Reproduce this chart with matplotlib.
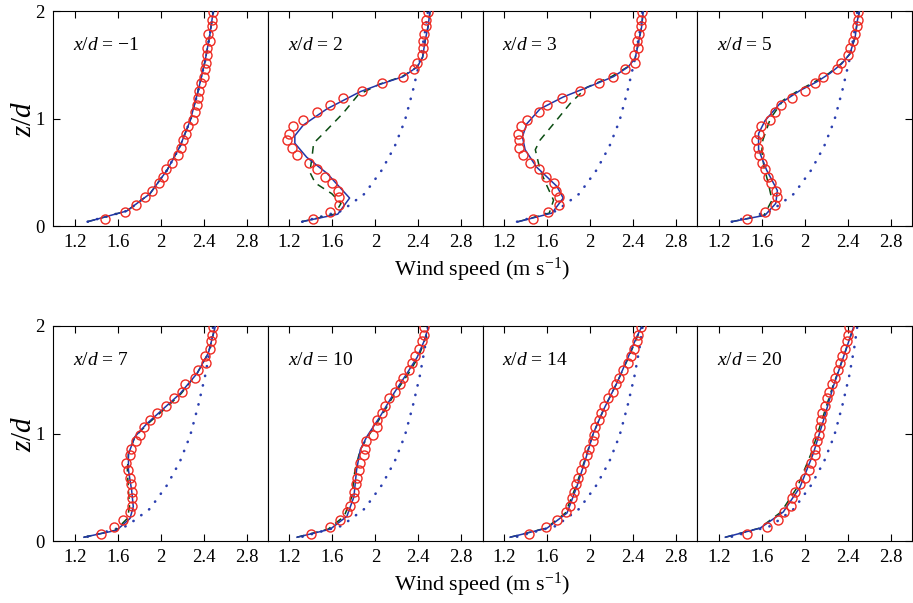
import numpy as np
import matplotlib
matplotlib.use('Agg')
import matplotlib.pyplot as plt

plt.rcParams['font.family'] = ['Liberation Serif', 'DejaVu Serif']
plt.rcParams['mathtext.fontset'] = 'custom'
plt.rcParams['mathtext.rm'] = 'Liberation Serif'
plt.rcParams['mathtext.it'] = 'Liberation Serif:italic'

# downstream positions
positions = ['\u22121', '2', '3', '5', '7', '10', '14', '20']

# measurement heights (z/d), shared by all profiles
z_obs = [0.065, 0.13, 0.20, 0.27, 0.33, 0.40, 0.46, 0.53, 0.59, 0.66,
         0.73, 0.80, 0.86, 0.93, 0.99, 1.06, 1.13, 1.19, 1.26, 1.33,
         1.39, 1.46, 1.52, 1.59, 1.66, 1.72, 1.79, 1.86, 1.92, 1.99]

# measured wind speed (circles)
u_obs = [
    [1.485, 1.67, 1.775, 1.85, 1.92, 1.985, 2.02, 2.05, 2.105, 2.165, 2.185, 2.21, 2.235, 2.255, 2.305,
     2.32, 2.335, 2.345, 2.36, 2.38, 2.40, 2.41, 2.42, 2.435, 2.43, 2.46, 2.44, 2.48, 2.48, 2.485],
    [1.415, 1.58, 1.665, 1.665, 1.655, 1.60, 1.535, 1.455, 1.38, 1.27, 1.22, 1.18, 1.20, 1.235, 1.33,
     1.46, 1.58, 1.695, 1.875, 2.06, 2.26, 2.36, 2.39, 2.43, 2.44, 2.44, 2.45, 2.47, 2.47, 2.495],
    [1.47, 1.605, 1.715, 1.71, 1.68, 1.66, 1.59, 1.525, 1.445, 1.375, 1.34, 1.335, 1.33, 1.355, 1.41,
     1.52, 1.60, 1.74, 1.905, 2.08, 2.21, 2.325, 2.415, 2.41, 2.45, 2.435, 2.46, 2.47, 2.475, 2.487],
    [1.465, 1.63, 1.72, 1.74, 1.73, 1.69, 1.66, 1.63, 1.60, 1.57, 1.56, 1.55, 1.575, 1.595, 1.68,
     1.725, 1.775, 1.88, 2.00, 2.095, 2.17, 2.30, 2.335, 2.40, 2.425, 2.445, 2.47, 2.49, 2.50, 2.50],
    [1.445, 1.57, 1.65, 1.715, 1.73, 1.73, 1.73, 1.725, 1.71, 1.70, 1.68, 1.71, 1.72, 1.77, 1.81,
     1.845, 1.90, 1.965, 2.05, 2.12, 2.20, 2.23, 2.32, 2.345, 2.42, 2.415, 2.46, 2.47, 2.48, 2.49],
    [1.40, 1.575, 1.67, 1.735, 1.76, 1.80, 1.805, 1.82, 1.83, 1.845, 1.855, 1.89, 1.90, 1.915, 1.975,
     2.015, 2.015, 2.06, 2.09, 2.13, 2.185, 2.225, 2.255, 2.31, 2.34, 2.365, 2.41, 2.43, 2.45, 2.45],
    [1.43, 1.59, 1.69, 1.775, 1.815, 1.83, 1.855, 1.87, 1.89, 1.92, 1.945, 1.97, 1.99, 2.025, 2.04,
     2.05, 2.08, 2.10, 2.13, 2.17, 2.21, 2.24, 2.27, 2.31, 2.355, 2.38, 2.41, 2.435, 2.45, 2.47],
    [1.46, 1.65, 1.75, 1.81, 1.875, 1.88, 1.905, 1.955, 2.005, 2.04, 2.055, 2.095, 2.10, 2.11, 2.13,
     2.145, 2.15, 2.165, 2.19, 2.205, 2.23, 2.25, 2.28, 2.31, 2.33, 2.345, 2.375, 2.39, 2.405, 2.415],
]

# inflow profile (dotted)
z_in = [0.04, 0.14, 0.30, 0.52, 0.74, 0.98, 1.26, 1.54, 1.79, 2.0]
u_in = [1.32, 1.685, 1.90, 2.06, 2.18, 2.275, 2.35, 2.415, 2.46, 2.49]

# model 1 (solid blue)
z_m1 = [
    z_in,
    [0.04, 0.11, 0.26, 0.49, 0.64, 0.77, 0.84, 0.94, 1.09, 1.25, 1.32, 1.39, 1.48, 1.57, 1.73, 1.85, 2.0],
    [0.04, 0.12, 0.26, 0.37, 0.55, 0.71, 0.83, 0.95, 1.09, 1.20, 1.30, 1.39, 1.48, 1.56, 1.70, 1.85, 2.0],
    [0.04, 0.10, 0.21, 0.33, 0.52, 0.71, 0.86, 0.98, 1.14, 1.26, 1.34, 1.42, 1.51, 1.60, 1.76, 1.91, 2.0],
    [0.035, 0.10, 0.21, 0.32, 0.47, 0.66, 0.81, 0.97, 1.09, 1.23, 1.37, 1.56, 1.75, 2.0],
    [0.035, 0.11, 0.23, 0.41, 0.66, 0.85, 0.97, 1.16, 1.37, 1.56, 1.71, 1.85, 1.99],
    [0.035, 0.12, 0.26, 0.50, 0.75, 1.0, 1.22, 1.47, 1.71, 1.90, 1.99],
    [0.035, 0.12, 0.27, 0.50, 0.815, 1.125, 1.435, 1.71, 1.99],
]
u_m1 = [
    u_in,
    [1.315, 1.65, 1.76, 1.55, 1.36, 1.25, 1.25, 1.33, 1.55, 1.86, 2.05, 2.26, 2.39, 2.44, 2.465, 2.49, 2.51],
    [1.33, 1.645, 1.75, 1.69, 1.50, 1.395, 1.37, 1.41, 1.535, 1.75, 2.0, 2.22, 2.355, 2.42, 2.45, 2.48, 2.495],
    [1.32, 1.63, 1.73, 1.745, 1.645, 1.57, 1.57, 1.63, 1.77, 1.955, 2.11, 2.235, 2.345, 2.42, 2.47, 2.49, 2.51],
    [1.285, 1.59, 1.715, 1.745, 1.73, 1.70, 1.70, 1.76, 1.87, 2.025, 2.18, 2.34, 2.445, 2.51],
    [1.27, 1.58, 1.735, 1.80, 1.825, 1.86, 1.92, 2.045, 2.17, 2.295, 2.39, 2.45, 2.495],
    [1.255, 1.60, 1.785, 1.875, 1.955, 2.03, 2.125, 2.25, 2.355, 2.435, 2.48],
    [1.26, 1.585, 1.80, 1.955, 2.08, 2.175, 2.265, 2.36, 2.455],
]

# model 2 (dashed green)
z_m2 = [
    z_in,
    [0.04, 0.11, 0.21, 0.30, 0.40, 0.50, 0.64, 0.77, 0.875, 1.05, 1.22, 1.32, 1.39, 1.48, 1.57, 1.73, 1.85, 2.0],
    [0.04, 0.12, 0.24, 0.37, 0.52, 0.71, 0.80, 0.95, 1.14, 1.29, 1.39, 1.48, 1.56, 1.70, 1.85, 2.0],
    [0.04, 0.10, 0.24, 0.40, 0.55, 0.70, 0.80, 1.0, 1.17, 1.26, 1.34, 1.42, 1.51, 1.60, 1.76, 1.91, 2.0],
    [0.035, 0.10, 0.21, 0.32, 0.47, 0.66, 0.81, 0.97, 1.09, 1.23, 1.37, 1.56, 1.75, 2.0],
    [0.035, 0.11, 0.23, 0.41, 0.66, 0.85, 0.97, 1.16, 1.37, 1.56, 1.71, 1.85, 1.99],
    [0.035, 0.12, 0.26, 0.50, 0.75, 1.0, 1.22, 1.47, 1.71, 1.90, 1.99],
    [0.035, 0.12, 0.27, 0.50, 0.815, 1.125, 1.435, 1.71, 1.99],
]
u_m2 = [
    u_in,
    [1.315, 1.62, 1.68, 1.595, 1.44, 1.39, 1.41, 1.425, 1.53, 1.70, 1.84, 2.04, 2.25, 2.39, 2.44, 2.465, 2.49, 2.51],
    [1.33, 1.62, 1.66, 1.60, 1.535, 1.49, 1.535, 1.66, 1.815, 1.97, 2.20, 2.35, 2.42, 2.45, 2.48, 2.495],
    [1.32, 1.62, 1.695, 1.66, 1.62, 1.60, 1.61, 1.68, 1.80, 1.94, 2.09, 2.225, 2.34, 2.42, 2.47, 2.49, 2.51],
    [1.285, 1.58, 1.69, 1.71, 1.70, 1.69, 1.70, 1.76, 1.88, 2.04, 2.19, 2.34, 2.445, 2.51],
    [1.27, 1.56, 1.71, 1.78, 1.81, 1.86, 1.93, 2.055, 2.18, 2.31, 2.40, 2.455, 2.495],
    [1.255, 1.59, 1.77, 1.865, 1.95, 2.03, 2.125, 2.25, 2.36, 2.44, 2.48],
    [1.26, 1.58, 1.78, 1.93, 2.06, 2.16, 2.26, 2.36, 2.455],
]

xticks = [1.2, 1.6, 2.0, 2.4, 2.8]
xticklabels = ['1.2', '1.6', '2', '2.4', '2.8']

fig = plt.figure(figsize=(9.13, 6.03), dpi=100)

W, H = 913.0, 603.0
left_px, panel_w = 53.3, 214.7
rows = [(11.0, 226.0), (326.0, 541.0)]

for i in range(8):
    r, c = divmod(i, 4)
    top, bot = rows[r]
    ax = fig.add_axes([(left_px + c * panel_w) / W, 1 - bot / H,
                       panel_w / W, (bot - top) / H])

    ax.plot(u_in, z_in, color='#2b3fb0', lw=1.9, linestyle=(0, (0.1, 3.6)),
            dash_capstyle='round', zorder=2)
    ax.plot(u_m2[i], z_m2[i], color='#0b4d12', lw=1.1, linestyle=(0, (5, 4)), zorder=3)
    ax.plot(u_m1[i], z_m1[i], color='#2236a8', lw=1.1, zorder=4)
    ax.plot(u_obs[i], z_obs, 'o', mfc='none', mec='#ee2a22', mew=1.0, ms=6.5, zorder=5)

    ax.set_xlim(1.0, 3.0)
    ax.set_ylim(0, 2)
    ax.set_xticks(xticks)
    ax.set_xticklabels(xticklabels, fontsize=13.5)
    ax.tick_params(axis='x', direction='in', top=True, length=5, width=0.8, pad=6)
    ax.set_yticks([0, 1, 2])
    if c == 0:
        ax.set_yticklabels(['0', '1', '2'], fontsize=13.5)
        ax.tick_params(axis='y', direction='in', left=True, right=False, length=5, width=0.8, pad=6)
    elif c == 3:
        ax.tick_params(axis='y', direction='in', left=False, right=True, labelleft=False,
                       length=5, width=0.8)
    else:
        ax.tick_params(axis='y', left=False, right=False, labelleft=False)
    for sp in ax.spines.values():
        sp.set_linewidth(0.8)

    ax.text(0.092, 0.84, '$x/d$ = ' + positions[i], transform=ax.transAxes,
            fontsize=14, va='center', ha='left')

for top, bot in rows:
    fig.text(24 / W, 1 - (top + bot) / 2 / H, '$z/d$', fontsize=21, rotation=90,
             ha='center', va='center')
    fig.text(482 / W, 1 - (bot + 44) / H, 'Wind speed (m s$^{\\mathregular{-1}}$)',
             fontsize=16, ha='center', va='center')

fig.savefig('out.png', dpi=100)
